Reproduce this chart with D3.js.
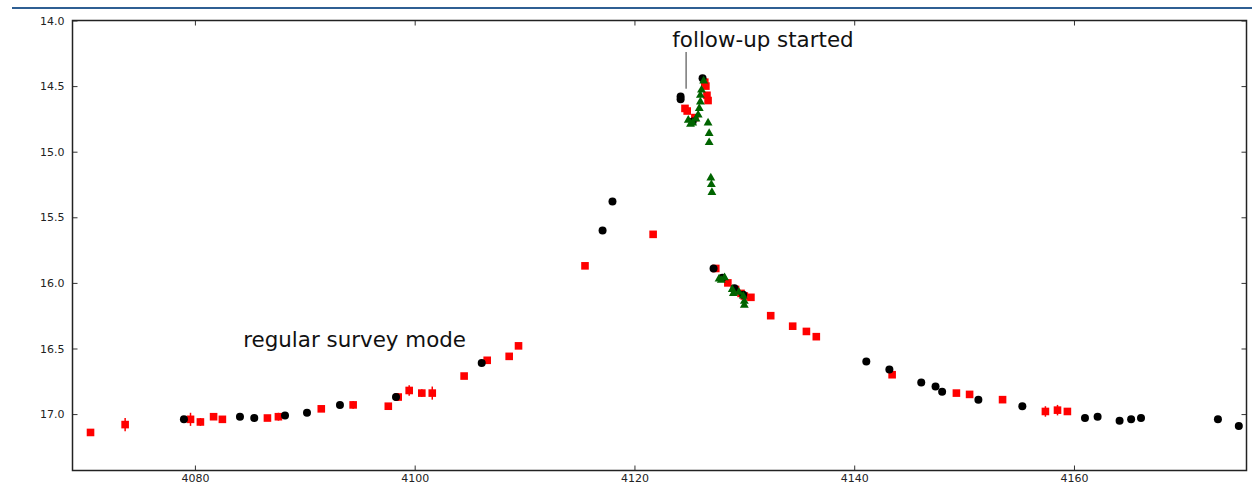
<!DOCTYPE html>
<html>
<head>
<meta charset="utf-8">
<script src="https://cdn.jsdelivr.net/npm/d3@7"></script>
<style>
  body { margin: 0; background: #fff; }
  svg { display: block; font-family: "DejaVu Sans", sans-serif; }
</style>
</head>
<body>
<svg width="1252" height="485"></svg>
<script>
// survey points (black circles)
var blackX = [4079.0, 4084.1, 4085.4, 4088.2, 4090.2, 4093.2, 4098.3, 4106.1, 4117.1, 4118.0,
  4124.2, 4124.2, 4125.3, 4126.2, 4127.2, 4128.0, 4129.1, 4129.9, 4141.1, 4143.2,
  4146.1, 4147.4, 4148.0, 4151.3, 4155.3, 4161.0, 4162.15, 4164.15, 4165.2, 4166.1, 4173.1, 4175.0];
var blackY = [17.04, 17.02, 17.03, 17.01, 16.99, 16.93, 16.87, 16.61, 15.60, 15.38,
  14.58, 14.60, 14.77, 14.44, 15.89, 15.96, 16.04, 16.09, 16.60, 16.66,
  16.76, 16.79, 16.83, 16.89, 16.94, 17.03, 17.02, 17.05, 17.04, 17.03, 17.04, 17.09];

// red squares with error bars
var redX = [4070.5, 4073.65, 4079.6, 4080.5, 4081.7, 4082.5, 4086.6, 4087.6, 4091.5, 4094.4,
  4097.6, 4098.5, 4099.5, 4100.65, 4101.6, 4104.5, 4106.6, 4108.6, 4109.45, 4115.5,
  4121.7, 4124.6, 4124.8, 4125.5, 4126.4, 4126.5, 4126.6, 4126.7, 4127.4, 4128.5,
  4129.2, 4129.7, 4130.0, 4130.6, 4132.4, 4134.4, 4135.65, 4136.55, 4143.45, 4149.3,
  4150.5, 4153.5, 4157.4, 4158.5, 4159.4];
var redY = [17.14, 17.08, 17.04, 17.06, 17.02, 17.04, 17.03, 17.02, 16.96, 16.93,
  16.94, 16.87, 16.82, 16.84, 16.84, 16.71, 16.59, 16.56, 16.48, 15.87,
  15.63, 14.67, 14.69, 14.74, 14.47, 14.50, 14.57, 14.61, 15.89, 16.00,
  16.05, 16.08, 16.10, 16.11, 16.25, 16.33, 16.37, 16.41, 16.70, 16.84,
  16.85, 16.89, 16.98, 16.97, 16.98];
var redErr = [0.02, 0.05, 0.05, 0.03, 0.02, 0.02, 0.02, 0.03, 0.02, 0.03,
  0.02, 0.03, 0.04, 0.03, 0.05, 0.02, 0.02, 0.02, 0.02, 0.02,
  0.02, 0.02, 0.02, 0.02, 0.02, 0.02, 0.02, 0.02, 0.02, 0.02,
  0.02, 0.02, 0.02, 0.02, 0.02, 0.02, 0.02, 0.02, 0.02, 0.02,
  0.02, 0.02, 0.04, 0.04, 0.02];

// follow-up points (green triangles)
var greenX = [4124.9, 4125.1, 4125.3, 4125.6, 4125.8, 4125.9, 4126.0, 4126.0, 4126.1, 4126.3,
  4126.7, 4126.8, 4126.8, 4126.95, 4127.0, 4127.05, 4127.7, 4127.9, 4128.2, 4128.9,
  4129.0, 4129.5, 4129.9, 4130.0, 4130.0];
var greenY = [14.76, 14.79, 14.78, 14.75, 14.72, 14.67, 14.62, 14.57, 14.53, 14.46,
  14.78, 14.86, 14.93, 15.20, 15.25, 15.31, 15.97, 15.98, 15.96, 16.05,
  16.08, 16.07, 16.10, 16.14, 16.17];

var xTicks = [4080, 4100, 4120, 4140, 4160];
var yTicks = [14.0, 14.5, 15.0, 15.5, 16.0, 16.5, 17.0];

var notes = [
  {text: "follow-up started", x: 4123.45, y: 14.2, lineX: 4124.7, y0: 14.24, y1: 14.52},
  {text: "regular survey mode", x: 4084.4, y: 16.49}
];

var svg = d3.select("svg"),
    width = +svg.attr("width"),
    height = +svg.attr("height");

var pLeft = 72.5, pRight = 1246.5, pTop = 20.5, pBottom = 470.5;

var x = d3.scaleLinear().domain([4068.86, 4175.7]).range([pLeft, pRight]);
var y = d3.scaleLinear().domain([14.0, 17.43]).range([pTop, pBottom]);

// header rule
svg.append("line")
  .attr("x1", 12).attr("x2", width)
  .attr("y1", 8).attr("y2", 8)
  .attr("stroke", "#2f5f93").attr("stroke-width", 2);

var plot = svg.append("g");

// error bars
plot.append("g").selectAll("line")
  .data(redX)
  .enter().append("line")
  .attr("x1", function(d) { return x(d); })
  .attr("x2", function(d) { return x(d); })
  .attr("y1", function(d, i) { return y(redY[i] - redErr[i]); })
  .attr("y2", function(d, i) { return y(redY[i] + redErr[i]); })
  .attr("stroke", "#ff0000").attr("stroke-width", 1.5);

plot.append("g").selectAll("rect")
  .data(redX)
  .enter().append("rect")
  .attr("x", function(d) { return x(d) - 3.8; })
  .attr("y", function(d, i) { return y(redY[i]) - 3.8; })
  .attr("width", 7.6).attr("height", 7.6)
  .attr("fill", "#ff0000");

plot.append("g").selectAll("circle")
  .data(blackX)
  .enter().append("circle")
  .attr("cx", function(d) { return x(d); })
  .attr("cy", function(d, i) { return y(blackY[i]); })
  .attr("r", 4)
  .attr("fill", "#000");

var tri = d3.symbol().type(d3.symbolTriangle).size(34);
plot.append("g").selectAll("path")
  .data(greenX)
  .enter().append("path")
  .attr("d", tri)
  .attr("transform", function(d, i) { return "translate(" + x(d) + "," + y(greenY[i]) + ")"; })
  .attr("fill", "#006400");

// axes, ticks pointing inward
function styleAxis(g) {
  g.select(".domain").remove();
  g.selectAll(".tick line").attr("stroke", "#333");
  g.selectAll(".tick text").attr("fill", "#222").style("font-size", "11px")
    .style("font-family", "DejaVu Sans, sans-serif");
}

svg.append("g").attr("transform", "translate(0," + pBottom + ")")
  .call(d3.axisBottom(x).tickValues(xTicks).tickFormat(d3.format("d")).tickSize(-5).tickPadding(4))
  .call(styleAxis);
svg.append("g").attr("transform", "translate(0," + pTop + ")")
  .call(d3.axisTop(x).tickValues(xTicks).tickFormat("").tickSize(-5))
  .call(styleAxis);
svg.append("g").attr("transform", "translate(" + pLeft + ",0)")
  .call(d3.axisLeft(y).tickValues(yTicks).tickFormat(d3.format(".1f")).tickSize(-5).tickPadding(8))
  .call(styleAxis);
svg.append("g").attr("transform", "translate(" + pRight + ",0)")
  .call(d3.axisRight(y).tickValues(yTicks).tickFormat("").tickSize(-5))
  .call(styleAxis);

svg.append("rect")
  .attr("x", pLeft).attr("y", pTop)
  .attr("width", pRight - pLeft).attr("height", pBottom - pTop)
  .attr("fill", "none").attr("stroke", "#222").attr("stroke-width", 1.5);

// annotations
notes.forEach(function(n) {
  svg.append("text")
    .attr("x", x(n.x)).attr("y", y(n.y))
    .style("font-size", "21.4px").attr("fill", "#111")
    .text(n.text);
  if (n.lineX) {
    svg.append("line")
      .attr("x1", x(n.lineX)).attr("x2", x(n.lineX))
      .attr("y1", y(n.y0)).attr("y2", y(n.y1))
      .attr("stroke", "#333").attr("stroke-width", 1);
  }
});
</script>
</body>
</html>
